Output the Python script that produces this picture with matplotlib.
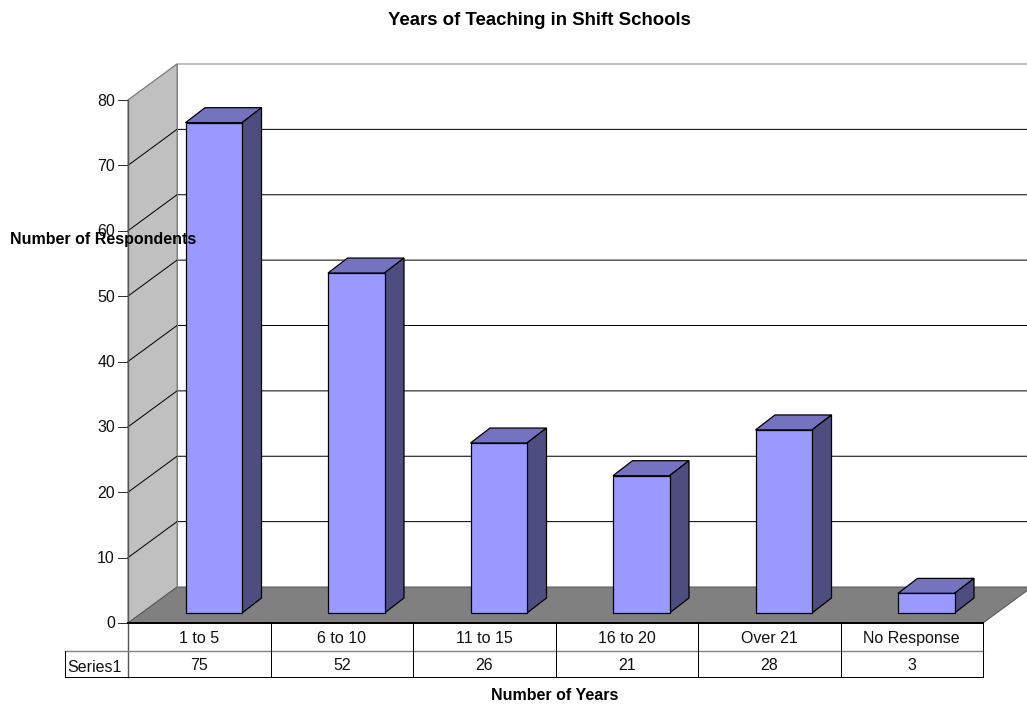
import matplotlib
matplotlib.use("Agg")
import matplotlib.pyplot as plt
from matplotlib.patches import Polygon

categories = ["1 to 5", "6 to 10", "11 to 15", "16 to 20", "Over 21", "No Response"]
values = [75, 52, 26, 21, 28, 3]
series_name = "Series1"
y_ticks = [0, 10, 20, 30, 40, 50, 60, 70, 80]

plt.rcParams["font.family"] = ["Liberation Sans", "DejaVu Sans"]

WIDTH, HEIGHT = 1027, 704
LW = 0.72
FS = 11.5

# one pixel in data units: category width is 142.5 px, one value step 6.5375 px
PX = 1 / 142.5
PY = 1 / 6.5375
DX, DY = 49 * PX, 36 * PY  # depth of the box
BAR_LEFT, BAR_W = 57.5 * PX, 56.5 * PX
BAR_DX, BAR_DY = 19.5 * PX, 15 * PY  # depth of a bar
BAR_BASE_Y = 10 * PY  # bars stand back from the front edge of the floor
ROW1, ROW2 = -28 * PY, -53.5 * PY
STUB = -63 * PX
NUDGE = -1 * PY  # tick labels sit a pixel below their tick


def poly(ax, pts, face, edge="black", lw=LW, z=2):
    ax.add_patch(Polygon(pts, closed=True, facecolor=face, edgecolor=edge, linewidth=lw, zorder=z))


def px_x(x):
    return (x - 128) * PX


def px_y(y):
    return (623 - y) * PY


fig = plt.figure(figsize=(WIDTH / 100, HEIGHT / 100), dpi=100)
ax = fig.add_axes([0, 0, 1, 1])
ax.set_xlim(px_x(0), px_x(WIDTH))
ax.set_ylim(px_y(HEIGHT), px_y(0))
ax.axis("off")

n = len(categories)
top = y_ticks[-1]

# walls and floor
poly(ax, [(0, 0), (DX, DY), (DX, top + DY), (0, top)], "#c0c0c0", "#808080", z=1)
poly(ax, [(0, 0), (n, 0), (n + DX, DY), (DX, DY)], "#808080", "#555555", z=1)

# gridlines
for t in y_ticks:
    color = "#808080" if t == top else "black"
    if t > 0:
        ax.plot([0, DX, n + DX], [t, t + DY, t + DY], color=color, lw=LW, zorder=1.5)
    ax.plot([-10 * PX, 0], [t, t], color="#333333", lw=LW, zorder=3)
    ax.text(-13 * PX, t + NUDGE, str(t), ha="right", va="center", fontsize=FS, color="#111111")
ax.plot([DX, DX], [DY, top + DY], color="#808080", lw=LW, zorder=1.5)
ax.plot([0, 0], [ROW2, top], color="#555555", lw=1.0, zorder=3)

# bars
for i, v in enumerate(values):
    x0 = i + BAR_LEFT
    x1 = x0 + BAR_W
    y0 = BAR_BASE_Y
    y1 = y0 + v
    poly(ax, [(x0, y1), (x1, y1), (x1 + BAR_DX, y1 + BAR_DY), (x0 + BAR_DX, y1 + BAR_DY)], "#7373bf", lw=0.9, z=4)
    poly(ax, [(x1, y0), (x1 + BAR_DX, y0 + BAR_DY), (x1 + BAR_DX, y1 + BAR_DY), (x1, y1)], "#4d4d80", lw=0.9, z=4)
    poly(ax, [(x0, y0), (x1, y0), (x1, y1), (x0, y1)], "#9999ff", lw=0.9, z=5)

# data table under the chart
ax.plot([0, n], [0, 0], color="black", lw=1.4, zorder=3)
ax.plot([STUB, n], [ROW1, ROW1], color="#808080", lw=1.0, zorder=3)
ax.plot([STUB, n], [ROW2, ROW2], color="black", lw=LW, zorder=3)
ax.plot([STUB, STUB], [ROW1, ROW2], color="black", lw=LW, zorder=3)
for i in range(1, n + 1):
    ax.plot([i, i], [0, ROW2], color="black", lw=LW, zorder=3)
for i, (c, v) in enumerate(zip(categories, values)):
    ax.text(i + 0.5, px_y(643), c, ha="center", va="baseline", fontsize=FS, color="#111111")
    ax.text(i + 0.5, px_y(670), str(v), ha="center", va="baseline", fontsize=FS, color="#111111")
ax.text(px_x(94.5), px_y(671.5), series_name, ha="center", va="baseline", fontsize=FS, color="#111111")

# titles
ax.text(px_x(539.5), px_y(25), "Years of Teaching in Shift Schools",
        ha="center", va="baseline", fontsize=13.4, fontweight="bold")
ax.text(px_x(103.5), px_y(244), "Number of Respondents",
        ha="center", va="baseline", fontsize=FS, fontweight="bold", zorder=6)
ax.text(px_x(555), px_y(700), "Number of Years",
        ha="center", va="baseline", fontsize=FS, fontweight="bold")

fig.savefig("out.png", dpi=100)
